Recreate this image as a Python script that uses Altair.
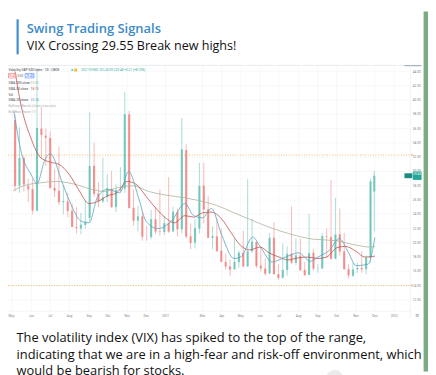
import altair as alt
import pandas as pd

W, H = 428, 367

# ---------------- message texts ----------------
channel_title = "Swing Trading Signals"
quote_line = "VIX Crossing 29.55 Break new highs!"
body_lines = [
    "The volatility index (VIX) has spiked to the top of the range,",
    "indicating that we are in a high-fear and risk-off environment, which",
    "would be bearish for stocks.",
]

# ---------------- chart legend texts ----------------
symbol_title = "Volatility S&P 500 Index \u00b7 1D \u00b7 CBOE"
ohlc_text = "O27.19 H30.10 L26.93 C29.40 +2.21 (+8.13%)"
ind_names = ["SMA 200 close", "SMA 50 close", "Vol", "SMA 20 close"]
ind_values = ["19.50", "18.13", "", "20.74"]
faded_names = ["Bollinger Bands (close) max ratio", "Bull Bear Power 13"]
last_price = 29.40

# ---------------- weekly VIX candles (week mid-date) ----------------
week_dates = [
    "2020-05-06", "2020-05-13", "2020-05-20", "2020-05-27", "2020-06-03", "2020-06-10",
    "2020-06-17", "2020-06-24", "2020-07-01", "2020-07-08", "2020-07-15", "2020-07-22",
    "2020-07-29", "2020-08-05", "2020-08-12", "2020-08-19", "2020-08-26", "2020-09-02",
    "2020-09-09", "2020-09-16", "2020-09-23", "2020-09-30", "2020-10-07", "2020-10-14",
    "2020-10-21", "2020-10-28", "2020-11-04", "2020-11-11", "2020-11-18", "2020-11-25",
    "2020-12-02", "2020-12-09", "2020-12-16", "2020-12-23", "2020-12-30", "2021-01-06",
    "2021-01-13", "2021-01-20", "2021-01-27", "2021-02-03", "2021-02-10", "2021-02-17",
    "2021-02-24", "2021-03-03", "2021-03-10", "2021-03-17", "2021-03-24", "2021-03-31",
    "2021-04-07", "2021-04-14", "2021-04-21", "2021-04-28", "2021-05-05", "2021-05-12",
    "2021-05-19", "2021-05-26", "2021-06-02", "2021-06-09", "2021-06-16", "2021-06-23",
    "2021-06-30", "2021-07-07", "2021-07-14", "2021-07-21", "2021-07-28", "2021-08-04",
    "2021-08-11", "2021-08-18", "2021-08-25", "2021-09-01", "2021-09-08", "2021-09-15",
    "2021-09-22", "2021-09-29", "2021-10-06", "2021-10-13", "2021-10-20", "2021-10-27",
    "2021-11-03", "2021-11-10", "2021-11-17", "2021-11-24", "2021-11-30",
]
opens = [
    37.2, 28.0, 31.9, 28.0, 27.5, 24.5, 36.0, 35.0, 34.7, 27.7, 27.3, 25.7,
    25.8, 24.5, 22.2, 22.0, 22.5, 23.5, 30.8, 26.9, 25.8, 26.4, 27.6, 25.0,
    27.4, 27.6, 38.0, 24.9, 23.1, 23.7, 20.8, 20.8, 23.3, 21.6, 21.5, 22.8,
    21.6, 24.3, 21.9, 33.0, 20.9, 20.0, 22.0, 28.0, 24.7, 20.7, 20.9, 18.9,
    17.3, 16.7, 16.3, 17.3, 18.6, 16.7, 18.8, 20.1, 16.8, 16.4, 15.7, 20.7,
    15.6, 15.1, 16.2, 18.5, 17.2, 18.2, 16.2, 15.5, 18.6, 16.4, 16.4, 20.9,
    20.8, 17.8, 21.2, 18.8, 16.3, 15.4, 16.3, 16.5, 16.3, 17.9, 27.19,
]
highs = [
    37.9, 36.2, 32.1, 29.0, 29.0, 44.4, 39.0, 36.0, 35.6, 30.3, 33.5, 28.0,
    27.0, 25.5, 25.0, 24.2, 25.9, 38.3, 34.0, 28.5, 31.9, 29.6, 30.1, 28.2,
    30.6, 41.2, 38.5, 27.5, 25.2, 24.3, 22.4, 24.6, 25.0, 27.5, 23.8, 29.2,
    25.1, 24.8, 37.5, 33.8, 22.7, 23.3, 31.2, 31.2, 26.6, 22.3, 23.4, 22.0,
    18.5, 17.6, 20.6, 18.9, 21.7, 28.9, 23.4, 20.3, 19.5, 17.8, 21.4, 22.9,
    17.0, 19.9, 19.5, 25.1, 20.6, 20.6, 17.3, 24.0, 19.1, 17.0, 21.4, 22.0,
    28.8, 26.3, 24.8, 21.4, 17.0, 17.2, 17.2, 18.8, 18.2, 29.0, 30.10,
]
lows = [
    27.2, 27.0, 27.2, 25.7, 24.0, 24.4, 31.8, 30.8, 27.6, 26.4, 25.3, 24.0,
    23.6, 22.2, 21.3, 21.2, 21.9, 23.0, 26.4, 25.0, 25.6, 25.7, 24.9, 24.3,
    27.1, 27.0, 24.8, 22.4, 21.6, 20.3, 20.3, 20.5, 21.2, 21.0, 21.1, 21.4,
    21.5, 20.9, 21.3, 20.6, 19.1, 19.2, 21.3, 22.7, 20.7, 19.1, 18.7, 17.3,
    16.2, 15.4, 16.2, 16.5, 16.6, 16.6, 18.6, 16.5, 16.0, 15.4, 15.6, 15.5,
    14.8, 15.0, 15.4, 17.0, 16.9, 16.1, 15.4, 15.5, 16.1, 15.8, 16.3, 17.9,
    17.6, 17.7, 18.2, 16.2, 15.0, 15.2, 15.8, 15.8, 15.6, 17.2, 21.6,
]
closes = [
    27.98, 31.89, 28.16, 27.51, 24.52, 36.09, 35.12, 34.73, 27.68, 27.29, 25.68, 25.84,
    24.46, 22.21, 22.05, 22.54, 22.96, 30.75, 26.87, 25.83, 26.38, 27.63, 25.00, 27.41,
    27.55, 38.02, 24.86, 23.10, 23.70, 20.84, 20.79, 23.31, 21.57, 21.53, 22.75, 21.56,
    24.34, 21.91, 33.09, 20.87, 19.97, 22.05, 27.95, 24.66, 20.69, 20.95, 18.86, 17.33,
    16.69, 16.25, 17.33, 18.61, 16.69, 18.81, 20.15, 16.76, 16.42, 15.65, 20.70, 15.62,
    15.07, 16.18, 18.45, 17.20, 18.24, 16.15, 15.45, 18.56, 16.39, 16.41, 20.95, 20.81,
    17.75, 21.15, 18.77, 16.30, 15.43, 16.26, 16.48, 16.29, 17.91, 28.62, 29.40,
]

# ---------------- moving averages ----------------
sma200_dates = ["2020-05-03", "2020-05-20", "2020-06-15", "2020-07-10", "2020-08-05", "2020-09-05",
                "2020-09-25", "2020-10-20", "2020-11-10", "2020-12-05", "2021-01-01", "2021-02-01",
                "2021-03-10", "2021-03-25", "2021-04-15", "2021-05-15", "2021-06-15", "2021-07-20",
                "2021-08-25", "2021-09-30", "2021-10-25", "2021-11-25", "2021-12-01"]
sma200_vals = [27.3, 28.0, 28.4, 28.6, 28.3, 27.5, 27.2, 27.8, 28.0, 27.2, 26.7, 26.3,
               25.6, 25.2, 24.4, 23.3, 22.2, 21.2, 20.5, 20.3, 19.8, 19.4, 19.5]

sma50_dates = ["2020-05-06", "2020-05-15", "2020-06-01", "2020-06-15", "2020-07-01", "2020-07-15",
               "2020-08-01", "2020-08-15", "2020-09-01", "2020-09-15", "2020-10-01", "2020-10-15",
               "2020-11-01", "2020-11-15", "2020-12-01", "2020-12-15", "2021-01-01", "2021-01-15",
               "2021-02-01", "2021-02-15", "2021-03-01", "2021-03-15", "2021-04-01", "2021-04-15",
               "2021-05-01", "2021-05-15", "2021-06-01", "2021-06-15", "2021-07-01", "2021-07-15",
               "2021-08-01", "2021-08-15", "2021-09-01", "2021-09-15", "2021-10-01", "2021-10-15",
               "2021-11-01", "2021-11-15", "2021-12-01"]
sma50_vals = [44.0, 39.5, 34.5, 32.0, 31.3, 31.0, 29.5, 27.5, 25.5, 25.8, 26.6, 27.0,
              28.6, 28.2, 26.5, 25.0, 23.5, 22.8, 23.8, 23.6, 24.2, 24.3, 23.3, 21.5,
              19.6, 19.0, 19.4, 18.6, 18.0, 17.6, 17.9, 18.0, 17.8, 18.0, 19.3, 19.5,
              18.8, 18.0, 18.13]

sma20_dates = ["2020-05-04", "2020-05-15", "2020-06-01", "2020-06-10", "2020-06-22", "2020-07-01",
               "2020-07-20", "2020-08-01", "2020-08-20", "2020-09-01", "2020-09-15", "2020-10-01",
               "2020-10-20", "2020-11-03", "2020-11-20", "2020-12-01", "2020-12-20", "2021-01-10",
               "2021-02-01", "2021-02-15", "2021-03-01", "2021-03-15", "2021-04-01", "2021-04-20",
               "2021-05-01", "2021-05-20", "2021-06-01", "2021-06-20", "2021-07-01", "2021-07-20",
               "2021-08-01", "2021-08-20", "2021-09-01", "2021-09-20", "2021-10-05", "2021-10-20",
               "2021-11-01", "2021-11-20", "2021-12-01"]
sma20_vals = [38.5, 33.0, 29.5, 28.3, 31.5, 32.5, 28.5, 25.8, 23.0, 22.8, 26.5, 27.5,
              27.0, 30.0, 26.0, 23.0, 22.0, 23.0, 25.5, 23.8, 23.5, 24.8, 21.0, 17.8,
              18.0, 20.8, 19.5, 17.3, 17.6, 18.3, 18.6, 17.4, 18.0, 19.0, 20.6, 18.6,
              16.8, 17.0, 20.74]

# ---------------- axes ----------------
month_dates = ["2020-05-01", "2020-06-01", "2020-07-01", "2020-08-01", "2020-09-01", "2020-10-01",
               "2020-11-01", "2020-12-01", "2021-01-01", "2021-03-01", "2021-04-01", "2021-05-01",
               "2021-06-01", "2021-07-01", "2021-08-01", "2021-09-01", "2021-10-01", "2021-11-01",
               "2021-12-01", "2022-01-01"]
month_labels = ["May", "Jun", "Jul", "Aug", "Sep", "Oct", "Nov", "Dec", "2021", "Mar", "Apr", "May",
                "Jun", "Jul", "Aug", "Sep", "Oct", "Nov", "Dec", "2022"]
y_ticks = [12, 14, 16, 18, 20, 22, 24, 26, 28, 30, 32, 34, 36, 38, 40, 42, 44]
level_lines = [32.3, 14.0]

UP, DOWN = "#5bbcb0", "#ef7a77"
C200, C50, C20 = "#a9b39c", "#c0504d", "#5aa2bd"
TINY = "Roboto"


def day_index(dates):
    base = pd.Timestamp("2020-05-01")
    return [(pd.Timestamp(d) - base).days for d in dates]


xs = alt.Scale(domain=[1.53, 655.87], nice=False, zero=False)
ys = alt.Scale(domain=[1.95, 52.43], nice=False, zero=False)
one = pd.DataFrame({"a": [0]})


def txt(s, x, y, size, color, weight="normal", font="Open Sans", align="left",
        baseline="alphabetic", opacity=1.0):
    return alt.Chart(pd.DataFrame({"t": [s]})).mark_text(
        align=align, baseline=baseline, fontSize=size, font=font, fontWeight=weight,
        color=color, opacity=opacity
    ).encode(x=alt.value(x), y=alt.value(y), text="t:N")


def box(x1, x2, y1, y2, fill, stroke=None, sw=0.5):
    kw = dict(fill=fill)
    if stroke:
        kw.update(stroke=stroke, strokeWidth=sw)
    return alt.Chart(one).mark_rect(**kw).encode(
        x=alt.value(x1), x2=alt.value(x2), y=alt.value(y1), y2=alt.value(y2))


layers = []

# right green strip (chat background)
layers.append(box(423.5, 428, 0, H, "#7aab82"))

# chart frame lines
layers.append(alt.Chart(one).mark_rule(color="#e3e6ea", strokeWidth=0.8).encode(
    x=alt.value(0), x2=alt.value(423), y=alt.value(55)))
layers.append(alt.Chart(one).mark_rule(color="#8d9cab", strokeWidth=0.9).encode(
    x=alt.value(404), x2=alt.value(421), y=alt.value(55.3)))
layers.append(alt.Chart(one).mark_rule(color="#e9ebef", strokeWidth=0.6).encode(
    x=alt.value(410), y=alt.value(55), y2=alt.value(312)))
layers.append(alt.Chart(one).mark_rule(color="#e9ebef", strokeWidth=0.6).encode(
    x=alt.value(0), x2=alt.value(410), y=alt.value(305.5)))

# gridlines
gdf = pd.DataFrame({"v": y_ticks, "lab": [f"{v:.2f}" for v in y_ticks]})
layers.append(alt.Chart(gdf).mark_rule(color="#f1f3f6", strokeWidth=0.6).encode(
    y=alt.Y("v:Q", scale=ys, axis=None), x=alt.value(0), x2=alt.value(410)))
mdf = pd.DataFrame({"d": day_index(month_dates), "lab": month_labels})
layers.append(alt.Chart(mdf).mark_rule(color="#f1f3f6", strokeWidth=0.6).encode(
    x=alt.X("d:Q", scale=xs, axis=None), y=alt.value(55), y2=alt.value(305)))

# level lines
ldf = pd.DataFrame({"v": level_lines})
layers.append(alt.Chart(ldf).mark_rule(color="#e9a941", strokeWidth=0.8, strokeDash=[1, 1.6]).encode(
    y=alt.Y("v:Q", scale=ys, axis=None), x=alt.value(0), x2=alt.value(410)))
layers.append(alt.Chart(ldf).mark_point(shape="diamond", filled=True, size=7, color="#e9a941").encode(
    y=alt.Y("v:Q", scale=ys, axis=None), x=alt.value(411.5)))

# candles
cdf = pd.DataFrame({"d": day_index(week_dates), "o": opens, "h": highs, "l": lows, "c": closes})
cdf["dir"] = ["up" if c >= o else "down" for o, c in zip(opens, closes)]
col = alt.Color("dir:N", scale=alt.Scale(domain=["up", "down"], range=[UP, DOWN]), legend=None)
layers.append(alt.Chart(cdf).mark_rule(strokeWidth=0.7, opacity=0.75).encode(
    x=alt.X("d:Q", scale=xs, axis=None), y=alt.Y("l:Q", scale=ys, axis=None), y2="h:Q", color=col))
layers.append(alt.Chart(cdf).mark_bar(size=2.2, opacity=0.75).encode(
    x=alt.X("d:Q", scale=xs, axis=None), y=alt.Y("o:Q", scale=ys, axis=None), y2="c:Q", color=col))

# moving averages
for ds, vs, c in [(sma200_dates, sma200_vals, C200), (sma50_dates, sma50_vals, C50),
                  (sma20_dates, sma20_vals, C20)]:
    mdf_ = pd.DataFrame({"d": day_index(ds), "v": vs})
    layers.append(alt.Chart(mdf_).mark_line(strokeWidth=0.8, interpolate="monotone", color=c).encode(
        x=alt.X("d:Q", scale=xs, axis=None), y=alt.Y("v:Q", scale=ys, axis=None)))

# axis labels
first_m = mdf.iloc[:1]
rest_m = mdf.iloc[1:]
layers.append(alt.Chart(first_m).mark_text(fontSize=3.2, color="#7a7f87", font=TINY, align="left").encode(
    x=alt.value(0.5), y=alt.value(310.5), text="lab:N"))
layers.append(alt.Chart(rest_m).mark_text(fontSize=3.2, color="#7a7f87", font=TINY).encode(
    x=alt.X("d:Q", scale=xs, axis=None), y=alt.value(310.5), text="lab:N"))
layers.append(alt.Chart(gdf).mark_text(fontSize=3.2, color="#7a7f87", font=TINY).encode(
    y=alt.Y("v:Q", scale=ys, axis=None), x=alt.value(416.5), text="lab:N"))
layers.append(txt("\u2699", 417, 310.5, 4.5, "#8a8f96", font="DejaVu Sans", align="center", baseline="middle"))

# last price label
lp = pd.DataFrame({"v": [last_price], "lab": [f"{last_price:.2f}"]})
layers.append(alt.Chart(lp).mark_rect(color="#26a69a", width=9, height=8.5).encode(
    y=alt.Y("v:Q", scale=ys, axis=None), x=alt.value(417)))
layers.append(alt.Chart(lp).mark_rect(color="#1f8a80", width=8, height=5).encode(
    y=alt.Y("v:Q", scale=ys, axis=None), x=alt.value(408)))
layers.append(alt.Chart(lp).mark_text(fontSize=3.2, color="white", font=TINY, dy=-1.5).encode(
    y=alt.Y("v:Q", scale=ys, axis=None), x=alt.value(417), text="lab:N"))

# chart legend (top-left)
layers.append(txt(symbol_title, 0.5, 59.7, 3.3, "#3b3f45", font=TINY, baseline="middle"))
layers.append(alt.Chart(one).mark_point(filled=True, size=5, color="#26a69a").encode(
    x=alt.value(65.5), y=alt.value(59.7)))
layers.append(box(67.5, 70.5, 58.2, 61.2, "#f2c037"))
layers.append(txt(ohlc_text, 75, 59.7, 3.2, "#26a69a", font=TINY, baseline="middle"))
layers.append(box(0.5, 8, 63.3, 67.8, "white", "#ef5350"))
layers.append(txt("29.40", 4.2, 65.6, 3.0, "#ef5350", font=TINY, align="center", baseline="middle"))
layers.append(txt("0.00", 12.5, 65.6, 3.0, "#555", font=TINY, align="center", baseline="middle"))
layers.append(box(17.5, 26.5, 63.3, 67.8, "white", "#2962ff"))
layers.append(txt("29.40", 22, 65.6, 3.0, "#2962ff", font=TINY, align="center", baseline="middle"))
ind_colors = [C200, C50, "#555", C20]
row_y = [72.7, 78.7, 84.7, 90.3]
for nm, val, c, yy in zip(ind_names, ind_values, ind_colors, row_y):
    layers.append(txt(nm, 0.5, yy, 3.3, "#44484e", font=TINY, baseline="middle"))
    if val:
        layers.append(txt(val, 23, yy, 3.3, c, font=TINY, baseline="middle"))
for nm, yy in zip(faded_names, [96.3, 102.0]):
    layers.append(txt(nm, 0.5, yy, 3.3, "#9a9ea5", font=TINY, baseline="middle", opacity=0.8))

# message: reply quote
layers.append(box(8.7, 10.9, 8, 43.7, "#3d8fd1"))
layers.append(txt(channel_title, 19, 21.5, 13.2, "#3b8bc9", weight=600))
layers.append(txt(quote_line, 19, 39, 12.8, "#111111"))

# message: body text (third line is cut by the bottom edge, as in the screenshot)
for i, line in enumerate(body_lines):
    layers.append(txt(line, 8.7, 337 + i * 16.7, 13.1, "#111111"))

# small round icon at bottom right (partly visible)
layers.append(alt.Chart(one).mark_point(filled=True, size=300, color="#e3e3e3").encode(
    x=alt.value(333), y=alt.value(374)))

chart = alt.layer(*layers).properties(
    width=W, height=H, padding=0,
    autosize=alt.AutoSizeParams(type="none"),
    background="white",
).configure_view(stroke=None)

chart.save("out.html", embed_options={"renderer": "svg", "actions": False})
